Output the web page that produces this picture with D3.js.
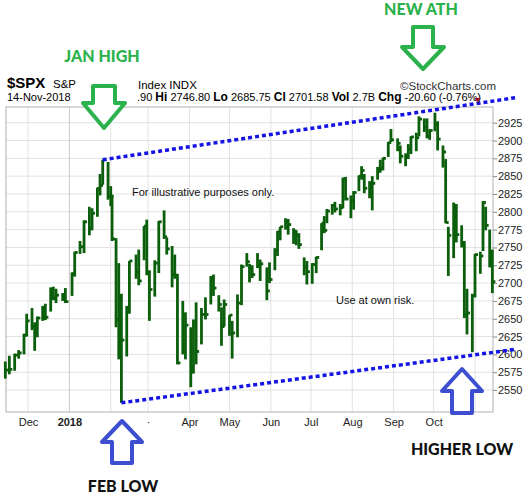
<!DOCTYPE html>
<html><head><meta charset="utf-8">
<script src="https://cdn.jsdelivr.net/npm/d3@7"></script>
<style>body{margin:0;background:#fff}svg{display:block}</style>
</head><body>
<svg id="c" width="531" height="500"></svg>
<script>
const dates=["2017-11-14","2017-11-17","2017-11-21","2017-11-24","2017-11-28","2017-11-30","2017-12-04","2017-12-06","2017-12-08","2017-12-12","2017-12-14","2017-12-18","2017-12-20","2017-12-22","2017-12-27","2017-12-29",
"2018-01-03","2018-01-05","2018-01-09","2018-01-12","2018-01-16","2018-01-18","2018-01-22","2018-01-24","2018-01-26","2018-01-30","2018-02-01",
"2018-02-02","2018-02-05","2018-02-07","2018-02-09","2018-02-13","2018-02-15","2018-02-20","2018-02-22","2018-02-26","2018-02-28",
"2018-03-02","2018-03-06","2018-03-09","2018-03-13","2018-03-15","2018-03-19","2018-03-21","2018-03-23","2018-03-27","2018-03-29",
"2018-04-02","2018-04-04","2018-04-06","2018-04-10","2018-04-13","2018-04-17","2018-04-19","2018-04-23","2018-04-25","2018-04-27",
"2018-05-01","2018-05-03","2018-05-07","2018-05-10","2018-05-14","2018-05-16","2018-05-18","2018-05-22","2018-05-24","2018-05-29","2018-05-31",
"2018-06-04","2018-06-06","2018-06-08","2018-06-12","2018-06-14","2018-06-18","2018-06-20","2018-06-22","2018-06-26","2018-06-28",
"2018-07-02","2018-07-05","2018-07-09","2018-07-11","2018-07-13","2018-07-17","2018-07-19","2018-07-23","2018-07-25","2018-07-27","2018-07-31",
"2018-08-02","2018-08-06","2018-08-08","2018-08-10","2018-08-14","2018-08-16","2018-08-20","2018-08-22","2018-08-24","2018-08-28","2018-08-30",
"2018-09-04","2018-09-06","2018-09-10","2018-09-12","2018-09-14","2018-09-18","2018-09-20","2018-09-24","2018-09-26","2018-09-28",
"2018-10-02","2018-10-04","2018-10-08","2018-10-10","2018-10-12","2018-10-16","2018-10-18","2018-10-22","2018-10-24","2018-10-26","2018-10-30",
"2018-11-01","2018-11-05","2018-11-07","2018-11-09","2018-11-12","2018-11-14"];
const closes=[2578,2579,2599,2602,2627,2647,2639,2629,2651,2664,2652,2690,2679,2683,2682,2674,
2713,2743,2751,2786,2777,2798,2833,2837,2873,2822,2822,
2762,2649,2681,2620,2662,2731,2716,2703,2780,2714,
2691,2728,2786,2765,2748,2712,2711,2588,2612,2641,
2582,2644,2604,2656,2656,2706,2693,2670,2639,2670,
2655,2630,2672,2723,2730,2722,2712,2724,2727,2689,2705,
2746,2772,2779,2786,2782,2773,2767,2754,2723,2716,
2726,2736,2784,2774,2801,2809,2804,2806,2846,2818,2816,
2827,2850,2858,2833,2839,2840,2857,2861,2875,2897,2901,
2896,2878,2877,2888,2905,2904,2930,2919,2906,2914,
2923,2902,2884,2785,2767,2809,2768,2755,2656,2658,2682,
2740,2738,2813,2781,2726,2702];
const highs=[2590,2598,2601,2606,2629,2657,2665,2645,2653,2668,2671,2694,2695,2692,2686,2693,
2715,2744,2759,2788,2807,2805,2834,2853,2873,2870,2836,
2821,2763,2728,2685,2668,2731,2740,2747,2780,2789,
2718,2732,2787,2802,2764,2752,2740,2713,2675,2659,
2638,2649,2673,2665,2680,2710,2712,2683,2666,2677,
2655,2647,2684,2726,2742,2727,2725,2742,2733,2722,2729,
2749,2773,2779,2791,2790,2777,2774,2770,2736,2731,
2728,2737,2784,2794,2804,2811,2814,2811,2848,2849,2823,
2829,2851,2864,2853,2843,2850,2863,2873,2876,2898,2916,
2903,2893,2882,2895,2906,2911,2934,2931,2931,2916,
2939,2927,2893,2874,2779,2813,2811,2781,2759,2692,2685,
2741,2744,2815,2807,2775,2747];
const lows=[2566,2572,2577,2594,2600,2625,2634,2605,2624,2647,2648,2660,2676,2672,2675,2672,
2682,2709,2741,2742,2767,2774,2793,2823,2838,2817,2808,
2759,2638,2593,2532,2597,2657,2706,2697,2732,2711,
2647,2681,2714,2762,2740,2694,2706,2586,2600,2593,
2554,2573,2586,2614,2649,2670,2682,2660,2612,2639,
2626,2594,2624,2669,2723,2701,2707,2721,2703,2676,2700,
2718,2738,2760,2775,2768,2755,2753,2748,2711,2698,
2699,2714,2746,2770,2784,2796,2799,2795,2805,2816,2791,
2803,2829,2845,2826,2819,2802,2845,2855,2858,2877,2898,
2885,2868,2864,2874,2881,2885,2906,2912,2903,2901,
2913,2886,2862,2784,2710,2735,2757,2750,2651,2628,2603,
2680,2713,2745,2774,2722,2686];
const yTicks=[2550,2575,2600,2625,2650,2675,2700,2725,2750,2775,2800,2825,2850,2875,2900,2925];
const monthTicks=["2017-12-01","2018-01-01","2018-02-01","2018-03-01","2018-04-01","2018-05-01","2018-06-01","2018-07-01","2018-08-01","2018-09-01","2018-10-01","2018-11-01"];
const monthLabels=["Dec","2018","","·","Apr","May","Jun","Jul","Aug","Sep","Oct",""];
const upperTrend=[["2018-01-26",2873],["2018-12-01",2960]];
const lowerTrend=[["2018-02-09",2532],["2018-12-01",2607]];

const P=d3.timeParse("%Y-%m-%d");
const svg=d3.select("#c");
const L=6,R=493,T=107,B=412;
const x=d3.scaleTime().domain([P("2017-12-01"),P("2018-11-01")]).range([28,475]);
const y=d3.scaleLinear().domain([2550,2925]).range([390,122.7]);
const F="Arial, 'Liberation Sans', sans-serif";

const g=svg.append("g");
g.selectAll(".hg").data(yTicks).enter().append("line").attr("x1",L).attr("x2",R).attr("y1",d=>y(d)).attr("y2",d=>y(d)).attr("stroke","#e2e2e2");
g.selectAll(".vg").data(monthTicks).enter().append("line").attr("x1",d=>x(P(d))).attr("x2",d=>x(P(d))).attr("y1",T).attr("y2",B).attr("stroke",(d,i)=>i==1?"#c8c8c8":"#e2e2e2");
g.append("rect").attr("x",L).attr("y",T).attr("width",R-L).attr("height",B-T).attr("fill","none").attr("stroke","#b0b0b0");

const yAx=d3.axisRight(y).tickValues(yTicks).tickSize(4).tickPadding(1).tickFormat(d3.format("d"));
const ya=svg.append("g").attr("transform",`translate(${R},0)`).call(yAx);
ya.select(".domain").remove();
ya.selectAll("text").attr("font-family",F).attr("font-size",11).attr("fill","#222");
ya.selectAll("line").attr("stroke","#888");

const xAx=d3.axisBottom(x).tickValues(monthTicks.map(P)).tickSize(0).tickPadding(6).tickFormat((d,i)=>monthLabels[i]);
const xa=svg.append("g").attr("transform",`translate(0,${B})`).call(xAx);
xa.select(".domain").remove();
xa.selectAll("text").attr("font-family",F).attr("font-size",11).attr("fill","#222").attr("font-weight",(d,i)=>i==1?"bold":"normal");

svg.append("text").attr("x",132).attr("y",196).attr("font-family",F).attr("font-size",11).attr("fill","#111").text("For illustrative purposes only.");
svg.append("text").attr("x",336).attr("y",304).attr("font-family",F).attr("font-size",11).attr("fill","#111").text("Use at own risk.");

const bars=svg.append("g").attr("stroke","#0b5e0b").attr("stroke-width",2.8);
dates.forEach((d,i)=>{
  const xx=x(P(d));
  bars.append("line").attr("x1",xx).attr("x2",xx).attr("y1",y(highs[i])).attr("y2",y(lows[i]));
  bars.append("line").attr("x1",xx).attr("x2",xx+3).attr("y1",y(closes[i])).attr("y2",y(closes[i]));
});

function trend(t){svg.append("line").attr("x1",x(P(t[0][0]))).attr("y1",y(t[0][1])).attr("x2",x(P(t[1][0]))).attr("y2",y(t[1][1]))
 .attr("stroke","#1414e6").attr("stroke-width",3.5).attr("stroke-dasharray","4,3");}
trend(upperTrend);trend(lowerTrend);

// header
svg.append("text").attr("x",7).attr("y",88).attr("font-family",F).attr("font-size",15).attr("font-weight","bold").text("$SPX");
svg.append("text").attr("x",53).attr("y",88).attr("font-family",F).attr("font-size",11.5).text("S&P");
svg.append("text").attr("x",7).attr("y",101).attr("font-family",F).attr("font-size",11).text("14-Nov-2018");
svg.append("text").attr("x",138).attr("y",89).attr("font-family",F).attr("font-size",11.5).text("Index  INDX");
svg.append("text").attr("x",400).attr("y",90).attr("font-family",F).attr("font-size",11.5).attr("fill","#333").text("©StockCharts.com");
const hd=svg.append("text").attr("x",137).attr("y",101).attr("font-family",F).attr("font-size",11);
[[".90 ",0],["Hi",1],[" 2746.80  ",0],["Lo",1],[" 2685.75  ",0],["Cl",1],[" 2701.58  ",0],["Vol",1],[" 2.7B  ",0],["Chg",1],[" -20.60 (-0.76%)",0]]
 .forEach(p=>hd.append("tspan").attr("font-weight",p[1]?"bold":"normal").attr("font-size",p[1]?12:11).text(p[0]));
svg.append("path").attr("d","M474,98 L481,98 L477.5,102 Z").attr("fill","#a0102a");

// arrows
function down(cx,top,hy,tip,hw,sw){
  return `M${cx-sw},${top} L${cx+sw},${top} L${cx+sw},${hy} L${cx+hw},${hy} L${cx},${tip} L${cx-hw},${hy} L${cx-sw},${hy} Z`;}
svg.append("path").attr("d",down(104,86,103,128,21,11)).attr("fill","#fff").attr("stroke","#2bb24c").attr("stroke-width",4).attr("stroke-linejoin","round");
svg.append("path").attr("d",down(423,27,47,69,21,10)).attr("fill","#fff").attr("stroke","#2bb24c").attr("stroke-width",4).attr("stroke-linejoin","round");
function up(cx,tip,hy,bot,hw,sw){
  return `M${cx},${tip} L${cx+hw},${hy} L${cx+sw},${hy} L${cx+sw},${bot} L${cx-sw},${bot} L${cx-sw},${hy} L${cx-hw},${hy} Z`;}
svg.append("path").attr("d",up(122,421,442,463,20,10)).attr("fill","#fff").attr("stroke","#3d4fd0").attr("stroke-width",4).attr("stroke-linejoin","round");
svg.append("path").attr("d",up(462,369,391,413,20,10)).attr("fill","#fff").attr("stroke","#3d4fd0").attr("stroke-width",4).attr("stroke-linejoin","round");

const AF="Lato, 'Open Sans', sans-serif";
svg.append("text").attr("x",102).attr("y",62).attr("text-anchor","middle").attr("font-family",AF).attr("font-weight",900).attr("font-size",16).attr("fill","#2bb24c").text("JAN HIGH");
svg.append("text").attr("x",421).attr("y",15).attr("text-anchor","middle").attr("font-family",AF).attr("font-weight",900).attr("font-size",16).attr("fill","#2bb24c").text("NEW ATH");
svg.append("text").attr("x",123).attr("y",492).attr("text-anchor","middle").attr("font-family",AF).attr("font-weight",900).attr("font-size",16).attr("fill","#111").text("FEB LOW");
svg.append("text").attr("x",462).attr("y",455).attr("text-anchor","middle").attr("font-family",AF).attr("font-weight",900).attr("font-size",16).attr("fill","#111").text("HIGHER LOW");
</script>
</body></html>
